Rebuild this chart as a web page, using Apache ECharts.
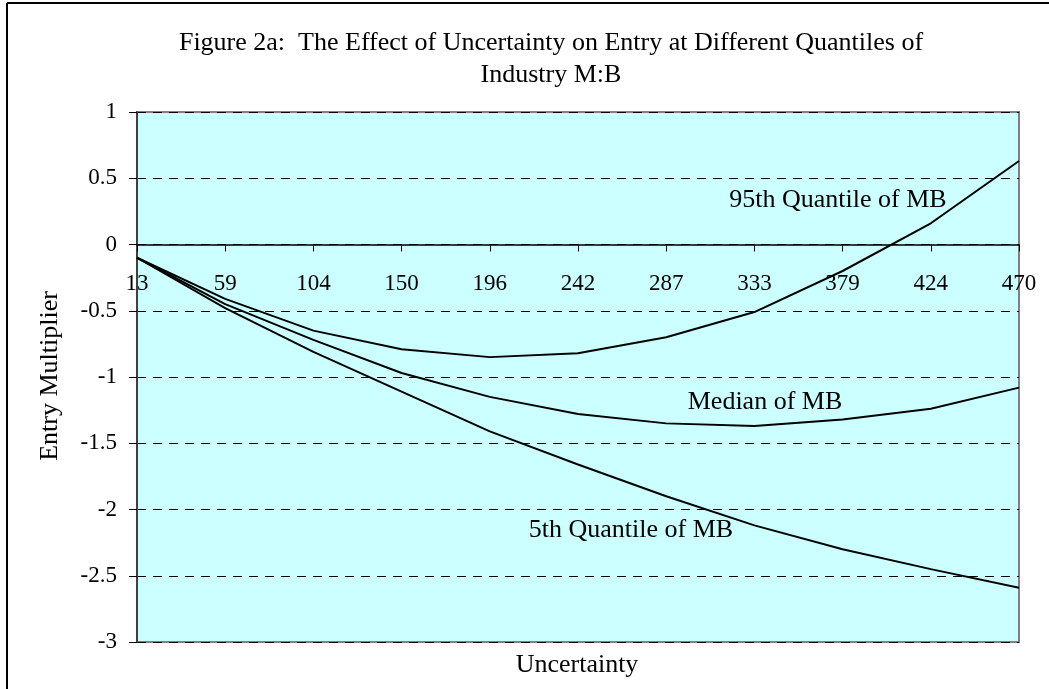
<!DOCTYPE html>
<html>
<head>
<meta charset="utf-8">
<script src="https://cdn.jsdelivr.net/npm/echarts@6/dist/echarts.min.js"></script>
<style>
  html, body { margin: 0; padding: 0; background: #fff; }
  #chart { width: 1049px; height: 689px; }
</style>
</head>
<body>
<div id="chart"></div>
<script>
var categories = ["13", "59", "104", "150", "196", "242", "287", "333", "379", "424", "470"];
var q95 = [-0.1, -0.41, -0.65, -0.79, -0.85, -0.82, -0.70, -0.51, -0.20, 0.16, 0.63];
var median = [-0.1, -0.45, -0.72, -0.97, -1.15, -1.28, -1.35, -1.37, -1.32, -1.24, -1.08];
var q5 = [-0.1, -0.48, -0.81, -1.11, -1.41, -1.66, -1.90, -2.12, -2.30, -2.45, -2.59];
var seriesNames = ["95th Quantile of MB", "Median of MB", "5th Quantile of MB"];

var font = "'Liberation Serif', 'Times New Roman', serif";
var chart = echarts.init(document.getElementById("chart"));

function lineSeries(name, data) {
  return {
    name: name,
    type: "line",
    data: data,
    symbol: "none",
    lineStyle: { color: "#000", width: 2 }
  };
}

function label(text, x, y, size, rotation) {
  return {
    type: "text", x: x, y: y, z: 100, rotation: rotation || 0,
    style: { text: text, fill: "#000", font: size + "px " + font, textAlign: "center", textVerticalAlign: "middle" }
  };
}

chart.setOption({
  animation: false,
  textStyle: { fontFamily: font },
  grid: {
    left: 137, right: 30, top: 112, bottom: 47,
    containLabel: false,
    outerBoundsMode: "none",
    show: true,
    backgroundColor: "#ccffff",
    borderColor: "#808080",
    borderWidth: 2
  },
  xAxis: {
    type: "category",
    data: categories,
    boundaryGap: false,
    position: "bottom",
    axisLine: { onZero: false, lineStyle: { color: "#000", width: 1.5 } },
    axisTick: { show: true, length: 7, lineStyle: { color: "#000" } },
    axisLabel: { color: "#000", fontSize: 23, fontFamily: font, margin: 28 },
    splitLine: { show: false }
  },
  yAxis: {
    type: "value",
    min: -3,
    max: 1,
    interval: 0.5,
    axisLine: { show: true, lineStyle: { color: "#404040", width: 2 } },
    axisTick: { show: true, length: 8, lineStyle: { color: "#000" } },
    axisLabel: { color: "#000", fontSize: 23, fontFamily: font, margin: 20 },
    splitLine: { show: true, lineStyle: { color: "#000", type: [9, 7], width: 1 } }
  },
  series: [
    lineSeries(seriesNames[0], q95),
    lineSeries(seriesNames[1], median),
    lineSeries(seriesNames[2], q5)
  ],
  graphic: [
    { type: "line", shape: { x1: 7, y1: 3, x2: 7, y2: 689 }, style: { stroke: "#000", lineWidth: 2 } },
    { type: "line", shape: { x1: 7, y1: 3, x2: 1049, y2: 3 }, style: { stroke: "#000", lineWidth: 2 } },
    label("Figure 2a:  The Effect of Uncertainty on Entry at Different Quantiles of", 551, 43, 26),
    label("Industry M:B", 551, 75, 26),
    label("Entry Multiplier", 50, 376, 26, Math.PI / 2),
    label("Uncertainty", 577, 665, 26),
    label(seriesNames[0], 838, 200, 26),
    label(seriesNames[1], 765, 402, 26),
    label(seriesNames[2], 631, 530, 26)
  ]
});

// move the category axis up to the zero line of the value axis
var yZero = chart.convertToPixel({ yAxisIndex: 0 }, 0);
var yBottom = chart.convertToPixel({ yAxisIndex: 0 }, -3);
chart.setOption({ xAxis: { offset: -(yBottom - yZero) } });
</script>
</body>
</html>
